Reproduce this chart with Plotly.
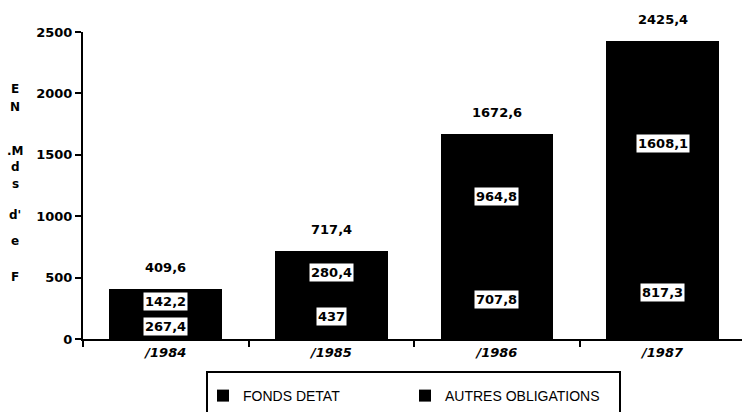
import plotly.graph_objects as go

years = ["/1984", "/1985", "/1986", "/1987"]
fonds_etat = [267.4, 437, 707.8, 817.3]
autres_oblig = [142.2, 280.4, 964.8, 1608.1]
totals = [409.6, 717.4, 1672.6, 2425.4]
bottom_labels = ["267,4", "437", "707,8", "817,3"]
top_labels = ["142,2", "280,4", "964,8", "1608,1"]
total_labels = ["409,6", "717,4", "1672,6", "2425,4"]
ytitle_letters = ["E", "N", ".M", "d", "s", "d'", "e", "F"]
ytitle_pos = [89, 107, 151, 167, 184, 215, 241, 277]

FONT = "DejaVu Sans"
LFONT = "Liberation Sans"

fig = go.Figure()
fig.add_trace(go.Bar(x=years, y=fonds_etat, name="FONDS DETAT",
                     marker=dict(color="black", line=dict(width=0)), width=0.68))
fig.add_trace(go.Bar(x=years, y=autres_oblig, name="AUTRES OBLIGATIONS",
                     marker=dict(color="black", line=dict(width=0)), width=0.68))

numfont = dict(family=FONT, size=13, color="black", weight="bold")
ann = []
for i, yr in enumerate(years):
    ann.append(dict(x=yr, y=fonds_etat[i] / 2, text=bottom_labels[i],
                    showarrow=False, bgcolor="white", borderpad=1,
                    font=numfont, yshift=-4))
    ann.append(dict(x=yr, y=fonds_etat[i] + autres_oblig[i] / 2, text=top_labels[i],
                    showarrow=False, bgcolor="white", borderpad=1,
                    font=numfont, yshift=-4))
    ann.append(dict(x=yr, y=totals[i], text=total_labels[i],
                    showarrow=False, yanchor="bottom", yshift=12,
                    font=numfont))

for t, py in zip(ytitle_letters, ytitle_pos):
    ann.append(dict(xref="paper", yref="paper", x=-0.103, y=(339 - py) / 307,
                    text=t, showarrow=False, xanchor="center", yanchor="middle",
                    font=dict(family=FONT, size=12, color="black", weight="bold")))

fig.update_layout(
    barmode="stack",
    width=742, height=412,
    margin=dict(l=83, r=0, t=32, b=73),
    paper_bgcolor="white", plot_bgcolor="white",
    showlegend=True,
    legend=dict(orientation="h", traceorder="normal",
                x=(203 - 83) / 659, y=(339 - 380) / 307,
                xanchor="left", yanchor="top", entrywidth=157,
                font=dict(family=LFONT, size=14, color="black"),
                bgcolor="rgba(0,0,0,0)", itemsizing="constant"),
    annotations=ann,
    shapes=[dict(type="rect", xref="paper", yref="paper",
                 x0=(207 - 83) / 659, x1=(620 - 83) / 659,
                 y0=(339 - 372) / 307, y1=(339 - 430) / 307,
                 line=dict(color="black", width=2), fillcolor="rgba(0,0,0,0)")],
    xaxis=dict(type="category", range=[-0.5, 3.48], tickson="boundaries",
               ticks="outside", ticklen=6, tickwidth=2, tickcolor="black",
               showline=True, linewidth=2, linecolor="black", showgrid=False,
               tickfont=dict(family=FONT, size=13, color="black", weight="bold", style="italic")),
    yaxis=dict(range=[0, 2500], tickvals=[0, 500, 1000, 1500, 2000, 2500],
               ticks="outside", ticklen=6, tickwidth=2, tickcolor="black",
               showline=True, linewidth=2, linecolor="black", showgrid=False,
               zeroline=False,
               tickfont=dict(family=FONT, size=13, color="black", weight="bold")),
)
fig.write_html("out.html")
